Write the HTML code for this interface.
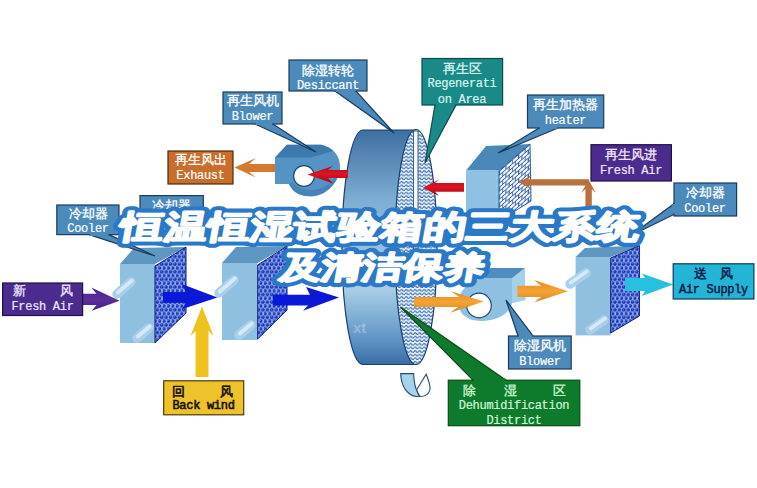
<!DOCTYPE html>
<html><head><meta charset="utf-8">
<style>
html,body{margin:0;padding:0;background:#fff;width:757px;height:488px;overflow:hidden}
svg{display:block}
.cn{font-family:"Liberation Serif",serif;font-weight:500;font-size:12.5px;fill:#fff;stroke:#fff;stroke-width:0.3px}
.en{font-family:"Liberation Mono",monospace;font-weight:400;font-size:12px;letter-spacing:-0.3px;fill:#fff;stroke:#fff;stroke-width:0.2px}
.title{font-family:"Liberation Sans",sans-serif;font-weight:900;fill:#fff;stroke:#2a78c8;stroke-width:10px;stroke-linejoin:round;paint-order:stroke fill}
.tw{stroke:#fff;stroke-width:1.9px}
</style></head>
<body>
<svg width="757" height="488" viewBox="0 0 757 488">
<defs>
  <pattern id="wave" width="4.5" height="3.6" patternUnits="userSpaceOnUse">
    <rect width="4.5" height="3.6" fill="#e6f5fc"/>
    <path d="M0,2.4 Q1.125,0.5 2.25,2.4 T4.5,2.4" fill="none" stroke="#3a64ac" stroke-width="1.05"/>
  </pattern>
  <pattern id="brick" width="6.4" height="8" patternUnits="userSpaceOnUse" patternTransform="translate(499,171) skewY(-41)">
    <rect width="6.4" height="8" fill="#eef5fc"/>
    <path d="M0,0.5 H6.4 M0,4.5 H6.4 M0.5,0.5 V4.5 M3.7,4.5 V8.5" fill="none" stroke="#3a5eaa" stroke-width="1.05"/>
  </pattern>
  <pattern id="dots" width="4.4" height="7.6" patternUnits="userSpaceOnUse">
    <rect width="4.4" height="7.6" fill="#86aaee"/>
    <circle cx="1.1" cy="1.9" r="1.75" fill="#1a2cb0"/>
    <circle cx="3.3" cy="5.7" r="1.75" fill="#1a2cb0"/>
    <circle cx="-1.1" cy="5.7" r="1.75" fill="#1a2cb0"/>
    <circle cx="0.8" cy="1.5" r="0.6" fill="#5a7ce0"/>
    <circle cx="3.0" cy="5.3" r="0.6" fill="#5a7ce0"/>
  </pattern>
  <linearGradient id="wheelg" x1="0" y1="0" x2="0" y2="1">
    <stop offset="0" stop-color="#3d6fa2"/>
    <stop offset="0.3" stop-color="#7eaed2"/>
    <stop offset="0.68" stop-color="#a8cee6"/>
    <stop offset="0.9" stop-color="#5d92c4"/>
    <stop offset="1" stop-color="#3a6ca6"/>
  </linearGradient>
</defs>

<!-- ===== Regen blower ===== -->
<g id="rblower">
  <path d="M275,157.5 L287,144.8 L321,144.8 C333,147 340,156 340,166 C340,182 326,196.5 311,196.5 C301,196.5 293,193 289,184 L275,184 Z" fill="#5593c5"/>
  <path d="M275,157.5 L287,144.8 L321,144.8 C326,146 330,148 333,151 L311,157.5 Z" fill="#3c7aae"/>
  <path d="M289,184 C293,193 301,196 311,196 C326,196 340,182 340,166 C338,180 325,190 311,190 C302,190 296,187 292,182 Z" fill="#4683b6"/>
  <circle cx="304" cy="176" r="10.4" fill="#fff" stroke="#1d4a78" stroke-width="1.2"/>
</g>

<!-- ===== Wheel ===== -->
<g id="wheel">
  <path d="M363,130 L416,130 L417,364.5 L363,364.5 A21,117 0 0 1 363,130 Z" fill="url(#wheelg)" stroke="#1b3f6e" stroke-width="1.2"/>
  <ellipse cx="416" cy="247" rx="21" ry="117.5" fill="url(#wave)" stroke="#1b3f6e" stroke-width="1.2"/>
  <rect x="413.5" y="131" width="4.5" height="125" fill="#f4fbff" stroke="#1b3f6e" stroke-width="0.8"/>
  <path d="M416.5,390 L426.2,374.3 C428.5,380 430.5,385 430,389.5 C429,394 425,396.5 420,396.5 C418.5,394 417,392 416.5,390 Z" fill="#fff" stroke="#2a4a6a" stroke-width="1.1"/>
  <path d="M400.7,373.6 L413.6,373.6 C414,382 415,387 417,391 C418,394 419,396 420,396.5 L416,396.5 C407,395 401,386 400.7,373.6 Z" fill="#a6d2ee" stroke="#2a4a6a" stroke-width="1.1"/>
</g>

<text x="353" y="333" font-family="Liberation Sans" font-weight="700" font-size="15" fill="#ffffff" fill-opacity="0.28">xt</text>
<!-- ===== Heater ===== -->
<g id="heater">
  <path d="M466,170.5 L486,146 L530,144 L499,170.5 Z" fill="#4a88b9"/>
  <rect x="466" y="170.5" width="33" height="50" fill="#8ec1e2"/>
  <path d="M499,170.5 L530,144 L531,201 L499,221 Z" fill="url(#brick)" stroke="#2a5ea0" stroke-width="1"/>
</g>

<!-- ===== Coolers left ===== -->
<g id="cooler1">
  <path d="M120,264 L134,248 L186,247 L155,264 Z" fill="#5e98c2"/>
  <rect x="120" y="264" width="35" height="79" fill="#8fc0e0"/>
  <path d="M155,266 L186,247 L186,313 L155,343 Z" fill="url(#dots)" stroke="#0f1c80" stroke-width="1"/>

  <path d="M117,294 L131,282" stroke="#a9cfea" stroke-width="9.5" stroke-linecap="round"/><path d="M117.8,292.5 L131.8,280.5" stroke="#d4eaf8" stroke-width="3.8" stroke-linecap="round"/>
  <path d="M137,338 L149,328" stroke="#a9cfea" stroke-width="9.5" stroke-linecap="round"/><path d="M137.8,336.5 L149.8,326.5" stroke="#d4eaf8" stroke-width="3.8" stroke-linecap="round"/>
</g>
<g id="cooler2">
  <path d="M222,263 L236,247 L287,246 L257.7,263 Z" fill="#5e98c2"/>
  <rect x="222" y="263" width="35.7" height="77" fill="#8fc0e0"/>
  <path d="M257.7,265 L287,246 L287,310 L257.7,339 Z" fill="url(#dots)" stroke="#0f1c80" stroke-width="1"/>

  <path d="M219,293 L234,280" stroke="#a9cfea" stroke-width="9.5" stroke-linecap="round"/><path d="M219.8,291.5 L234.8,278.5" stroke="#d4eaf8" stroke-width="3.8" stroke-linecap="round"/>
  <path d="M239,335 L251,325" stroke="#a9cfea" stroke-width="9.5" stroke-linecap="round"/><path d="M239.8,333.5 L251.8,323.5" stroke="#d4eaf8" stroke-width="3.8" stroke-linecap="round"/>
</g>
<g id="cooler3">
  <path d="M575.6,257 L585,248 L639.4,245.6 L610.7,257 Z" fill="#5e98c2"/>
  <rect x="575.6" y="257" width="35.1" height="78.4" fill="#8fc0e0"/>
  <path d="M610.7,258 L639.4,245.6 L639.4,316 L610.7,333 Z" fill="url(#dots)" stroke="#0f1c80" stroke-width="1"/>

  <path d="M570,284 L586,273" stroke="#a9cfea" stroke-width="9.5" stroke-linecap="round"/><path d="M570.8,282.5 L586.8,271.5" stroke="#d4eaf8" stroke-width="3.8" stroke-linecap="round"/>
  <path d="M590,330 L604,320" stroke="#a9cfea" stroke-width="9.5" stroke-linecap="round"/><path d="M590.8,328.5 L604.8,318.5" stroke="#d4eaf8" stroke-width="3.8" stroke-linecap="round"/>
</g>

<!-- ===== Dehumid blower ===== -->
<g id="dblower">
  <path d="M489,268 L524.6,268 L525.4,300 L512,303 C510,314 497,321 481,321 C467,321 458,313 458.5,303 C459,290 469,281 485,278 Z" fill="#8ec1e1"/>
  <path d="M512,278 L524.6,268 L525.4,300 L512,303 Z" fill="#a6d0ea"/>
  <path d="M489,268 L524.6,268 L512,278 L485,278 Z" fill="#4f8cbf"/>
  <circle cx="479" cy="305.5" r="12.3" fill="#fff" stroke="#1d4a78" stroke-width="1.2"/>
</g>

<!-- ===== Arrows ===== -->
<defs>
  <linearGradient id="gRed" x1="0" y1="0" x2="0" y2="1"><stop offset="0" stop-color="#b00818"/><stop offset="0.45" stop-color="#e01424"/><stop offset="1" stop-color="#a00818"/></linearGradient>
  <linearGradient id="gOr" x1="0" y1="0" x2="0" y2="1"><stop offset="0" stop-color="#e08a28"/><stop offset="0.5" stop-color="#f6a432"/><stop offset="1" stop-color="#d88424"/></linearGradient>
  <linearGradient id="gPur" x1="0" y1="0" x2="0" y2="1"><stop offset="0" stop-color="#3e2288"/><stop offset="0.5" stop-color="#5e2e9a"/><stop offset="1" stop-color="#3e2288"/></linearGradient>
</defs>
<!-- exhaust orange -->
<path d="M234.4,167.5 L256,158 L249,164 L275,164 L275,172 L249,172 L256,177.5 Z" fill="#d47a30"/>
<!-- red into blower -->
<path d="M307.5,174.4 L333,166 L328,170 L348,170 L348,178 L328,178 L333,183.5 Z" fill="url(#gRed)"/>
<!-- red into wheel -->
<path d="M423,187.7 L439,179.5 L435,183 L464,183 L464,191.8 L435,191.8 L439,196 Z" fill="url(#gRed)"/>
<!-- brown horizontal -->
<path d="M518.6,182.3 L532,175 L528,179.2 L589,179.2 L589,185.4 L528,185.4 L532,189.5 Z" fill="#b8703e"/>
<!-- brown vertical + pipe -->
<path d="M588.6,180 L596,193 L591.8,189 L591.8,223 L585.4,223 L585.4,189 L581.2,193 Z" fill="#b8703e"/>
<path d="M470,217 L591.8,217 L591.8,223 L470,223 Z" fill="#b8703e"/>
<!-- purple fresh air -->
<path d="M119.7,300.7 L91.2,287.4 L96.5,293.8 L82.7,293.8 L82.7,304.9 L96.5,304.9 L91.7,310.7 Z" fill="url(#gPur)"/>
<!-- blue arrows -->
<path d="M163,292 L186,292 L181.7,284 L217.4,297.5 L181.7,309.3 L186,302.7 L163,302.7 Z" fill="#0a18d8"/>
<path d="M272.8,294.8 L310,294.8 L306,287 L339,297.5 L303,310.7 L308,305.4 L272.8,305.4 Z" fill="#0a18d8"/>
<!-- yellow back wind -->
<path d="M195.6,377 L195.6,331 L190.5,336 L202,306.5 L213.6,336 L208.5,331 L208.5,377 Z" fill="#efc21e"/>
<!-- orange dehumid 1 -->
<path d="M414,297 L459,297 L451,291.3 L483.7,301.5 L450,312.7 L458,307 L414,307 Z" fill="url(#gOr)"/>
<!-- orange dehumid 2 -->
<path d="M517.4,285.7 L541,285.7 L534,280 L568,291.3 L534,302.6 L541,297 L517.4,297 Z" fill="url(#gOr)"/>
<!-- cyan supply -->
<path d="M625,278 L645,278 L642,273.5 L673.2,284.6 L642,296 L645,291 L625,291 Z" fill="#28c0e0"/>

<!-- ===== Callouts ===== -->
<g stroke="#1b3a5a" stroke-width="1.2">
  <!-- desiccant -->
  <path d="M335,91 L394,133 L356,91 Z" fill="#4b8abb"/>
  <rect x="289" y="60" width="78" height="31" fill="#4b8abb"/>
  <!-- blower regen -->
  <path d="M255,124 L316,152 L273,124 Z" fill="#4b8abb"/>
  <rect x="223" y="92" width="59" height="32" fill="#4b8abb"/>
  <!-- exhaust -->
  <rect x="168" y="151" width="65" height="33" fill="#c86e2a" stroke="#4a2a10"/>
  <!-- regeneration -->
  <path d="M435,105 L425,163 L456,105 Z" fill="#1a8a88" stroke="#0c4a4a"/>
  <rect x="422" y="58.5" width="80.6" height="46.5" fill="#1a8a88" stroke="#0c4a4a"/>
  <!-- heater -->
  <path d="M539,128 L498,153 L558,128 Z" fill="#4b8abb"/>
  <rect x="527.5" y="95" width="76.2" height="33" fill="#4b8abb"/>
  <!-- fresh air regen -->
  <rect x="591" y="144.7" width="80.4" height="36.3" fill="#4b2b8e" stroke="#20104a"/>
  <!-- cooler right -->
  <path d="M675,203 L630,236 L675,214 Z" fill="#4b8abb"/>
  <rect x="674" y="183" width="62.6" height="33" fill="#4b8abb"/>
  <!-- cooler left 1 -->
  <path d="M89,234.6 L155,256 L109,234.6 Z" fill="#4b8abb"/>
  <rect x="56.8" y="205" width="62.2" height="29.6" fill="#4b8abb"/>
  <!-- cooler left 2 -->
  <path d="M165,226 L178,240 L180,226 Z" fill="#4b8abb"/>
  <rect x="140" y="195.6" width="63.3" height="31" fill="#4b8abb"/>
  <!-- fresh air -->
  <rect x="2.6" y="283" width="80" height="32.5" fill="#4b2b8e" stroke="#20104a"/>
  <!-- back wind -->
  <rect x="163.7" y="380.8" width="80" height="34" fill="#eec22a" stroke="#4a3a08"/>
  <!-- blower dehumid -->
  <path d="M518,336 L506,300 L533,336 Z" fill="#4b8abb"/>
  <rect x="508.5" y="336" width="62.7" height="33" fill="#4b8abb"/>
  <!-- dehumid green -->
  <path d="M473,380.2 L400.5,307 L506,380.2 Z" fill="#0e7a2c" stroke="#0a4a1a"/>
  <rect x="448.3" y="380.2" width="131.5" height="45.5" fill="#0e7a2c" stroke="#0a4a1a"/>
  <!-- air supply -->
  <rect x="673.2" y="263.8" width="80.7" height="35.2" fill="#22b5d5" stroke="#0a3a5a"/>
</g>
<!-- callout tail joins (cover border) -->
<g fill="#4b8abb">
  <rect x="335.8" y="89" width="19.5" height="3"/>
  <rect x="255.8" y="122" width="16.5" height="3"/>
  <rect x="539.8" y="126" width="17.5" height="3"/>
  <rect x="518.8" y="335" width="13.5" height="3"/>
  <rect x="672" y="204" width="3" height="9.5"/>
  <rect x="89.8" y="233" width="18.5" height="3"/>
</g>
<rect x="435.8" y="103" width="19.5" height="3" fill="#1a8a88"/>
<rect x="473.8" y="378.5" width="31.5" height="3" fill="#0e7a2c"/>

<!-- ===== Callout texts ===== -->
<g text-anchor="middle">
  <text class="cn" x="328" y="74.5">除湿转轮</text>
  <text class="en" x="328" y="88.5">Desiccant</text>
  <text class="cn" x="252.5" y="105">再生风机</text>
  <text class="en" x="252.5" y="119.5">Blower</text>
  <text class="cn" x="200.5" y="163.5">再生风出</text>
  <text class="en" x="200.5" y="179">Exhaust</text>
  <text class="cn" x="462" y="72.5" style="fill:#d8f4f0;stroke:#d8f4f0">再生区</text>
  <text class="en" x="462" y="87" style="fill:#d8f4f0;stroke:#d8f4f0">Regenerati</text>
  <text class="en" x="462" y="102.5" style="fill:#d8f4f0;stroke:#d8f4f0">on Area</text>
  <text class="cn" x="565.5" y="109">再生加热器</text>
  <text class="en" x="565.5" y="123.5">heater</text>
  <text class="cn" x="631" y="159" style="fill:#f4e8f8;stroke:#f4e8f8">再生风进</text>
  <text class="en" x="631" y="173.5" style="fill:#f4e8f8;stroke:#f4e8f8">Fresh Air</text>
  <text class="cn" x="705" y="197">冷却器</text>
  <text class="en" x="705" y="212">Cooler</text>
  <text class="cn" x="88" y="217.5">冷却器</text>
  <text class="en" x="88" y="232">Cooler</text>
  <text class="cn" x="171.5" y="209.5">冷却器</text>
  <text class="cn" x="19" y="295" style="fill:#f0e8ff;stroke:#f0e8ff">新</text><text class="cn" x="66" y="295" style="fill:#f0e8ff;stroke:#f0e8ff">风</text>
  <text class="en" x="42.5" y="309.5" style="fill:#f0e8ff;stroke:#f0e8ff">Fresh Air</text>
  <text class="cn" x="178.5" y="395.5" style="fill:#141408;stroke:#141408;stroke-width:0.6px">回</text><text class="cn" x="226.5" y="395.5" style="fill:#141408;stroke:#141408;stroke-width:0.6px">风</text>
  <text class="en" x="203.5" y="409" style="fill:#141408;stroke:#141408;stroke-width:0.6px">Back wind</text>
  <text class="cn" x="540" y="350">除湿风机</text>
  <text class="en" x="540" y="364.5">Blower</text>
  <text class="cn" x="469" y="394.5" style="fill:#d0f8d8;stroke:#d0f8d8">除</text><text class="cn" x="510" y="394.5" style="fill:#d0f8d8;stroke:#d0f8d8">湿</text><text class="cn" x="559" y="394.5" style="fill:#d0f8d8;stroke:#d0f8d8">区</text>
  <text class="en" x="514" y="409" style="fill:#d0f8d8;stroke:#d0f8d8">Dehumidification</text>
  <text class="en" x="514" y="423.5" style="fill:#d0f8d8;stroke:#d0f8d8">District</text>
  <text class="cn" x="700" y="277.5" style="fill:#0a1a48;stroke:#0a1a48;stroke-width:0.5px">送</text><text class="cn" x="726.5" y="277.5" style="fill:#0a1a48;stroke:#0a1a48;stroke-width:0.5px">风</text>
  <text class="en" x="713.5" y="292.5" style="fill:#0a1a48;stroke:#0a1a48;stroke-width:0.5px">Air Supply</text>
</g>

<!-- ===== Title ===== -->
<g transform="translate(0,241) skewX(-10) translate(0,-241)">
<text class="title" x="119" y="238.5" font-size="32.5" textLength="519" lengthAdjust="spacingAndGlyphs">恒温恒湿试验箱的三大系统</text>
<text class="title tw" x="119" y="238.5" font-size="32.5" textLength="519" lengthAdjust="spacingAndGlyphs">恒温恒湿试验箱的三大系统</text>
</g>
<g transform="translate(0,280) skewX(-10) translate(0,-280)">
<text class="title" x="279" y="278" font-size="31" textLength="203" lengthAdjust="spacingAndGlyphs">及清洁保养</text>
<text class="title tw" x="279" y="278" font-size="31" textLength="203" lengthAdjust="spacingAndGlyphs">及清洁保养</text>
</g>
</svg>
</body></html>
